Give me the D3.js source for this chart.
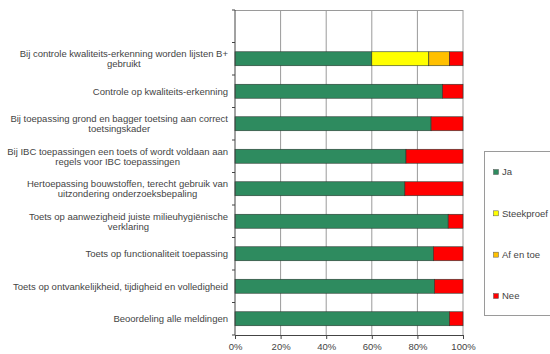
<!DOCTYPE html>
<html>
<head>
<meta charset="utf-8">
<script src="https://cdn.jsdelivr.net/npm/d3@7"></script>
<style>
  html, body { margin: 0; padding: 0; background: #fff; }
  svg { display: block; font-family: "Liberation Sans", Arial, sans-serif; }
</style>
</head>
<body>
<svg id="chart" width="550" height="354"></svg>
<script>
// Questions (top to bottom); the first row is left empty
const categories = [
  "",
  "Bij controle kwaliteits-erkenning worden lijsten B+ gebruikt",
  "Controle op kwaliteits-erkenning",
  "Bij toepassing grond en bagger toetsing aan correct toetsingskader",
  "Bij IBC toepassingen een toets of wordt voldaan aan regels voor IBC toepassingen",
  "Hertoepassing bouwstoffen, terecht gebruik van uitzondering onderzoeksbepaling",
  "Toets op aanwezigheid juiste milieuhygiënische verklaring",
  "Toets op functionaliteit toepassing",
  "Toets op ontvankelijkheid, tijdigheid en volledigheid",
  "Beoordeling alle meldingen"
];
const seriesNames = ["Ja", "Steekproef", "Af en toe", "Nee"];
const ja         = [0, 60, 91, 86, 75, 74.5, 93.5, 87, 87.5, 94];
const steekproef = [0, 25, 0, 0, 0, 0, 0, 0, 0, 0];
const afEnToe    = [0, 9, 0, 0, 0, 0, 0, 0, 0, 0];
const nee        = [0, 6, 9, 14, 25, 25.5, 6.5, 13, 12.5, 6];
const tickValues = [0, 20, 40, 60, 80, 100];
const colors = ["#2e8b5f", "#ffff00", "#ffc000", "#ff0000"];

const FONT = 9.5;
const TEXT = "#444";

const rows = categories.map((c, i) => ({
  cat: c, Ja: ja[i], Steekproef: steekproef[i], "Af en toe": afEnToe[i], Nee: nee[i]
}));
const stacked = d3.stack().keys(seriesNames)(rows);

const svg = d3.select("#chart");
const plot = { left: 235, right: 463, top: 10, bottom: 335 };

const x = d3.scaleLinear().domain([0, 100]).range([plot.left, plot.right]);
const y = d3.scaleBand().domain(categories.map((c, i) => i))
  .range([plot.top, plot.bottom]).paddingInner(0.57).paddingOuter(0.285);
const yOuter = d3.scaleBand().domain(categories.map((c, i) => i))
  .range([plot.top, plot.bottom]);

// gridlines and frame
svg.append("g").selectAll("line").data(tickValues.slice(1))
  .join("line")
  .attr("x1", d => x(d)).attr("x2", d => x(d))
  .attr("y1", plot.top).attr("y2", plot.bottom)
  .attr("stroke", "#9a9a9a").attr("stroke-width", 1);
svg.append("line")
  .attr("x1", plot.left).attr("x2", plot.right)
  .attr("y1", plot.top + 0.5).attr("y2", plot.top + 0.5)
  .attr("stroke", "#9a9a9a");

// stacked bars
svg.append("g").selectAll("g").data(stacked).join("g")
  .attr("fill", (d, i) => colors[i])
  .selectAll("rect").data(d => d.map((v, i) => ({ v, i })).filter(o => o.v[1] - o.v[0] > 0))
  .join("rect")
  .attr("x", o => x(o.v[0]))
  .attr("width", o => x(o.v[1]) - x(o.v[0]))
  .attr("y", o => y(o.i))
  .attr("height", y.bandwidth())
  .attr("stroke", "#2a3a30").attr("stroke-width", 0.6);

// x axis
const xAxis = svg.append("g")
  .attr("transform", `translate(0,${plot.bottom})`)
  .call(d3.axisBottom(x).tickValues(tickValues).tickFormat(d => d + "%").tickSize(4).tickSizeOuter(0));
xAxis.select(".domain").attr("stroke", "#444");
xAxis.selectAll(".tick line").attr("stroke", "#444");
xAxis.selectAll("text").attr("font-size", FONT).attr("fill", TEXT).attr("dy", "0.8em");

// y axis with ticks on band boundaries
svg.append("line")
  .attr("x1", plot.left).attr("x2", plot.left)
  .attr("y1", plot.top).attr("y2", plot.bottom)
  .attr("stroke", "#444");
svg.append("g").selectAll("line")
  .data(categories.map((c, i) => i).concat([categories.length]))
  .join("line")
  .attr("x1", plot.left - 3).attr("x2", plot.left)
  .attr("y1", d => d < categories.length ? yOuter(d) : plot.bottom)
  .attr("y2", d => d < categories.length ? yOuter(d) : plot.bottom)
  .attr("stroke", "#444");

// category labels, wrapped to the label column
function wrap(text, maxW, ctx) {
  const words = text.split(" ");
  const lines = [];
  let cur = "";
  words.forEach(w => {
    const t = cur ? cur + " " + w : w;
    if (ctx.measureText(t).width > maxW && cur) { lines.push(cur); cur = w; }
    else cur = t;
  });
  if (cur) lines.push(cur);
  return lines;
}
const ctx = document.createElement("canvas").getContext("2d");
ctx.font = FONT + "px 'Liberation Sans', Arial, sans-serif";
const labelW = 224;
const labelRight = 228;
const labels = svg.append("g").attr("font-size", FONT).attr("fill", TEXT);
categories.forEach((c, i) => {
  if (!c) return;
  const lines = wrap(c, labelW, ctx);
  const cy = y(i) + y.bandwidth() / 2;
  const lh = 10;
  const widest = d3.max(lines, l => ctx.measureText(l).width);
  const t = labels.append("text").attr("text-anchor", "middle");
  lines.forEach((ln, k) => {
    t.append("tspan")
      .attr("x", labelRight - widest / 2)
      .attr("y", cy + (k - (lines.length - 1) / 2) * lh)
      .attr("dy", "0.35em")
      .text(ln);
  });
});

// legend
const lg = svg.append("g");
lg.append("rect").attr("x", 484.5).attr("y", 151.5).attr("width", 70).attr("height", 164)
  .attr("fill", "#fff").attr("stroke", "#9a9a9a");
const ly = d3.scalePoint().domain(seriesNames).range([172, 296]);
seriesNames.forEach((n, i) => {
  lg.append("rect").attr("x", 493.5).attr("y", ly(n) - 2.5).attr("width", 5).attr("height", 5)
    .attr("fill", colors[i]).attr("stroke", "#555").attr("stroke-width", 0.5);
  lg.append("text").attr("x", 502).attr("y", ly(n)).attr("dy", "0.35em")
    .attr("font-size", FONT).attr("fill", TEXT).text(n);
});
</script>
</body>
</html>
